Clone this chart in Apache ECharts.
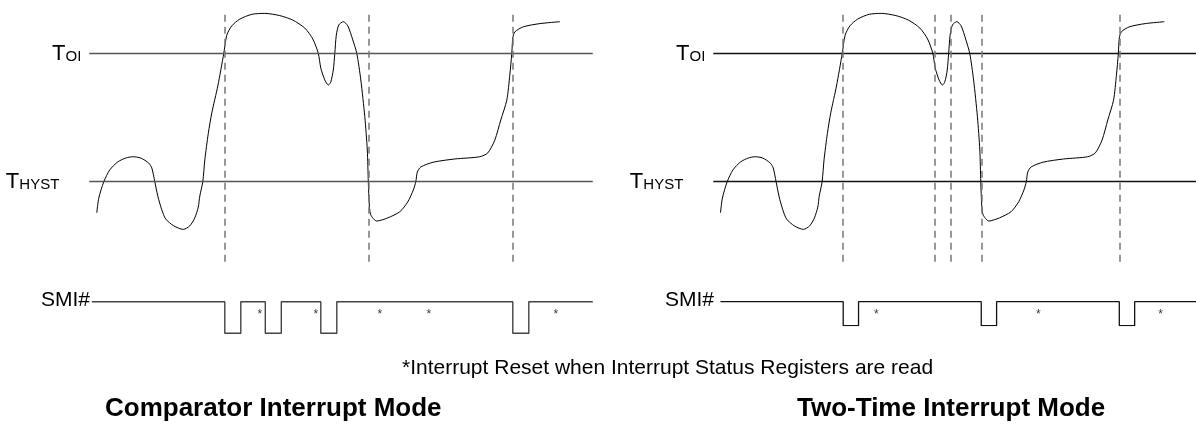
<!DOCTYPE html>
<html>
<head>
<meta charset="utf-8">
<script src="https://cdn.jsdelivr.net/npm/echarts@6/dist/echarts.min.js"></script>
<style>
  html, body { margin: 0; padding: 0; background: #fff; }
  #chart { width: 1196px; height: 425px; }
</style>
</head>
<body>
<div id="chart"></div>
<script>
// temperature trace, same for both modes (time units, temperature units)
var tempTime = [1.5, 1.9, 2.9, 4.1, 5.7, 7.3, 8.7, 10.3, 11.9, 12.5, 13.1, 13.7, 14.5, 15.3, 16.9, 18.8, 20.1, 21.1, 21.8, 22.1, 22.7, 23.1, 23.8, 24.5, 25.7, 26.9, 27.5, 28.5, 30.1, 32.5, 35.1, 38.1, 40.7, 43.1, 44.7, 45.8, 46.3, 47.1, 47.8, 48.3, 48.8, 49.1, 49.4, 49.9, 50.8, 51.7, 52.7, 53.5, 54.3, 55.1, 55.6, 55.8, 56.0, 56.3, 57.5, 59.7, 62.1, 63.7, 64.8, 65.3, 65.6, 66.3, 68.8, 73.1, 78.1, 79.7, 81.1, 82.3, 83.5, 84.1, 84.5, 84.7, 85.1, 86.8, 90.1, 94.1];
var tempValue = [30.3, 34.9, 40, 43.7, 46.2, 47.4, 47.8, 47.4, 45.8, 44.3, 40, 35.5, 31.2, 28.3, 26.2, 25.1, 26.2, 28.7, 32.1, 35.5, 40, 46.8, 55.1, 61.5, 69.9, 80.1, 85.8, 88.7, 90.8, 92.3, 92.6, 91.9, 90.5, 88.0, 84.6, 80.1, 75.5, 71.8, 70.2, 71.2, 74.9, 80.1, 85.8, 89.0, 90, 88.7, 84.3, 80.1, 71.8, 60.3, 49.9, 40, 32.7, 29.6, 27.7, 28.7, 30.6, 33.7, 37.4, 40, 43.0, 44.6, 46.1, 47.1, 47.8, 49.0, 53.0, 59.3, 65.5, 73.3, 80.1, 84.9, 86.8, 88.4, 89.4, 90];

var tOI = 80;
var tHYST = 40;

// dashed event markers
var eventsComparator = [27.1, 55.9, 84.7];
var eventsTwoTime = [27.1, 46.3, 49.5, 55.9, 84.7];

// SMI# low periods [fall, rise]
var smiLowComparator = [[27.1, 30.3], [35.2, 38.4], [46.3, 49.5], [84.7, 87.9]];
var smiLowTwoTime = [[27.1, 30.3], [55.9, 59.1], [84.7, 87.9]];
var smiStart = [0.5, 1.5];
var smiEnd = 100.7;

// status register reads (*)
var readsComparator = [34.1, 45.3, 58.1, 67.9, 93.3];
var readsTwoTime = [34.0, 67.8, 93.3];

var chart = echarts.init(document.getElementById('chart'));

function zip(a, b) {
    return a.map(function (x, i) { return [x, b[i]]; });
}

function smiPath(start, lows) {
    var d = [[start, 1]];
    lows.forEach(function (p) {
        d.push([p[0], 1], [p[0], 0], [p[1], 0], [p[1], 1]);
    });
    d.push([smiEnd, 1]);
    return d;
}

var labelRich = {
    t: { fontSize: 22, fontFamily: 'Liberation Sans', color: '#000', width: 9 },
    s: { fontSize: 15, fontFamily: 'Liberation Sans', color: '#000', padding: [6, 0, 0, 0] }
};

function thresholdLines(color) {
    return {
        silent: true,
        symbol: 'none',
        lineStyle: { color: color, type: 'solid', width: 1.3 },
        label: { show: true, position: 'start', rich: labelRich },
        data: [
            { yAxis: tOI, label: { formatter: '{t|T}{s|OI}', distance: 8 } },
            { yAxis: tHYST, label: { formatter: '{t|T}{s|HYST}', distance: 30 } }
        ]
    };
}

function eventLines(list) {
    return {
        silent: true,
        symbol: 'none',
        lineStyle: { color: '#777', type: [7, 5], width: 1.5 },
        label: { show: false },
        data: list.map(function (t) { return { xAxis: t }; })
    };
}

var gridW = 503.5;
var xAx = function (i) {
    return { type: 'value', gridIndex: i, min: 0, max: 100.7, show: false };
};

var option = {
    animation: false,
    backgroundColor: '#fff',
    grid: [
        { left: 89.3, top: 12.1, width: gridW, height: 249.6 },
        { left: 713.3, top: 12.1, width: gridW, height: 249.6 },
        { left: 89.3, top: 301.7, width: gridW, height: 31.6 },
        { left: 713.3, top: 301.7, width: gridW, height: 24 }
    ],
    xAxis: [xAx(0), xAx(1), xAx(2), xAx(3)],
    yAxis: [
        { type: 'value', gridIndex: 0, min: 15, max: 93, show: false },
        { type: 'value', gridIndex: 1, min: 15, max: 93, show: false },
        { type: 'value', gridIndex: 2, min: 0, max: 1, show: false },
        { type: 'value', gridIndex: 3, min: 0, max: 1, show: false }
    ],
    series: [
        {
            type: 'line', xAxisIndex: 0, yAxisIndex: 0,
            data: zip(tempTime, tempValue), smooth: 0.25, showSymbol: false,
            lineStyle: { color: '#000', width: 1 },
            markLine: thresholdLines('#555')
        },
        {
            type: 'line', xAxisIndex: 0, yAxisIndex: 0, data: [],
            markLine: eventLines(eventsComparator)
        },
        {
            type: 'line', xAxisIndex: 1, yAxisIndex: 1,
            data: zip(tempTime, tempValue), smooth: 0.25, showSymbol: false,
            lineStyle: { color: '#000', width: 1 },
            markLine: thresholdLines('#111')
        },
        {
            type: 'line', xAxisIndex: 1, yAxisIndex: 1, data: [],
            markLine: eventLines(eventsTwoTime)
        },
        {
            type: 'line', xAxisIndex: 2, yAxisIndex: 2,
            data: smiPath(smiStart[0], smiLowComparator), showSymbol: false,
            lineStyle: { color: '#444', width: 1.4 }
        },
        {
            type: 'line', xAxisIndex: 3, yAxisIndex: 3,
            data: smiPath(smiStart[1], smiLowTwoTime), showSymbol: false,
            lineStyle: { color: '#111', width: 1.3 }
        },
        {
            type: 'scatter', xAxisIndex: 2, yAxisIndex: 2, symbolSize: 1,
            itemStyle: { color: 'rgba(0,0,0,0)' },
            label: { show: true, formatter: '*', position: 'inside', offset: [0, 13], fontSize: 12, color: '#000' },
            data: readsComparator.map(function (t) { return [t, 1]; })
        },
        {
            type: 'scatter', xAxisIndex: 3, yAxisIndex: 3, symbolSize: 1,
            itemStyle: { color: 'rgba(0,0,0,0)' },
            label: { show: true, formatter: '*', position: 'inside', offset: [0, 13], fontSize: 12, color: '#000' },
            data: readsTwoTime.map(function (t) { return [t, 1]; })
        }
    ],
    graphic: [
        { type: 'text', left: 41, top: 290, style: { text: 'SMI#', fontSize: 21, fontFamily: 'Liberation Sans', fill: '#000' } },
        { type: 'text', left: 665, top: 290, style: { text: 'SMI#', fontSize: 21, fontFamily: 'Liberation Sans', fill: '#000' } },
        { type: 'text', left: 402, top: 358, style: { text: '*Interrupt Reset when Interrupt Status Registers are read', fontSize: 21, fontFamily: 'Liberation Sans', fill: '#000' } },
        { type: 'text', left: 105, top: 396, style: { text: 'Comparator Interrupt Mode', fontSize: 26, fontWeight: 'bold', fontFamily: 'Liberation Sans', fill: '#000' } },
        { type: 'text', left: 797, top: 396, style: { text: 'Two-Time Interrupt Mode', fontSize: 26, fontWeight: 'bold', fontFamily: 'Liberation Sans', fill: '#000' } }
    ]
};

chart.setOption(option);
</script>
</body>
</html>
